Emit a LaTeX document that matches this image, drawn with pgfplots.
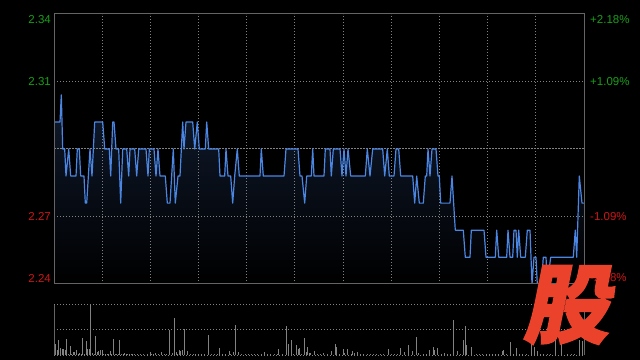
\documentclass[border=0pt]{standalone}
\usepackage{pgfplots}
\pgfplotsset{compat=1.18}
\usepackage{fontspec}
\setmainfont{Liberation Sans}
\newfontfamily\cjk{Noto Sans CJK SC}[BoldFeatures={FakeBold=2}]
\definecolor{framec}{RGB}{100,100,100}
\definecolor{gridc}{RGB}{130,130,130}
\definecolor{linec}{RGB}{74,134,226}
\definecolor{fillc}{RGB}{16,27,46}
\definecolor{volc}{RGB}{130,130,130}
\definecolor{upc}{RGB}{24,160,24}
\definecolor{dnc}{RGB}{205,22,22}
\definecolor{logoc}{RGB}{235,66,44}
\begin{document}
\begin{tikzpicture}
\fill[black] (0,0) rectangle (640bp,360bp);
\begin{axis}[at={(54bp,76bp)}, anchor=south west, width=530bp, height=270bp, scale only axis,
  xmin=0, xmax=330, ymin=2.2401, ymax=2.3399,
  axis line style={framec, line width=1bp}, axis on top,
  xtick=\empty, ytick=\empty, major tick length=0pt]
\addplot[draw=none, top color=fillc, bottom color=black] coordinates {
(0,2.30) (3.74,2.30) (4.55,2.31) (5.42,2.29) (6.66,2.29) (7.47,2.28) (9.15,2.29) (10.40,2.28) (13.70,2.28) (14.51,2.29) (15.75,2.29) (16.62,2.28) (18.68,2.28) (19.49,2.27) (20.36,2.27) (22.42,2.29) (23.66,2.28) (25.34,2.30) (30.32,2.30) (31.57,2.29) (34.43,2.29) (35.30,2.28) (36.55,2.30) (37.36,2.30) (38.60,2.29) (40.28,2.29) (41.53,2.27) (42.77,2.29) (45.27,2.29) (46.51,2.28) (47.32,2.29) (50.25,2.29) (51.49,2.28) (52.74,2.29) (57.28,2.29) (58.53,2.28) (59.34,2.29) (62.26,2.29) (63.51,2.28) (64.75,2.29) (66.00,2.28) (69.30,2.28) (70.55,2.27) (72.23,2.27) (74.28,2.29) (75.53,2.27) (77.21,2.28) (78.45,2.28) (80.13,2.30) (80.94,2.29) (82.19,2.30) (86.36,2.30) (87.61,2.29) (89.23,2.30) (90.47,2.29) (94.21,2.29) (95.08,2.30) (96.32,2.29) (102.55,2.29) (103.36,2.28) (106.28,2.28) (107.09,2.29) (108.34,2.28) (110.02,2.28) (111.26,2.27) (112.51,2.28) (114.13,2.29) (115.37,2.28) (128.26,2.28) (129.07,2.29) (130.32,2.28) (143.21,2.28) (144.45,2.29) (151.92,2.29) (153.17,2.28) (154.42,2.28) (156.09,2.27) (157.34,2.28) (160.20,2.28) (161.08,2.29) (161.89,2.28) (168.11,2.28) (168.92,2.29) (171.85,2.29) (172.66,2.28) (173.91,2.29) (178.08,2.29) (179.32,2.28) (180.57,2.29) (181.81,2.28) (183.06,2.29) (184.74,2.28) (193.83,2.28) (195.08,2.29) (196.75,2.28) (198.43,2.29) (204.66,2.29) (205.91,2.28) (207.53,2.29) (208.77,2.28) (211.70,2.28) (212.94,2.29) (214.62,2.29) (215.87,2.28) (223.34,2.28) (224.58,2.27) (225.83,2.28) (227.45,2.27) (229.94,2.27) (231.19,2.28) (232.06,2.28) (232.87,2.29) (234.11,2.28) (235.36,2.29) (237.85,2.29) (239.09,2.28) (239.90,2.28) (240.77,2.27) (246.56,2.27) (247.81,2.28) (249.86,2.26) (254.84,2.26) (256.09,2.25) (259.02,2.25) (259.83,2.26) (267.74,2.26) (268.98,2.25) (274.77,2.25) (275.64,2.26) (276.89,2.25) (281.87,2.25) (282.68,2.26) (283.92,2.25) (285.60,2.25) (286.41,2.26) (287.66,2.26) (288.47,2.25) (289.34,2.26) (290.58,2.25) (293.45,2.25) (294.70,2.26) (296.38,2.26) (297.62,2.24) (298.87,2.25) (300.11,2.25) (300.92,2.24) (303.5,2.24) (304.66,2.25) (306.34,2.25) (307.15,2.24) (309.26,2.25) (323.33,2.25) (324.58,2.26) (325.45,2.25) (327.07,2.28) (328.75,2.27) (330,2.27)
} \closedcycle;
\pgfplotsinvokeforeach{30,60,90,120,150,180,210,240,270,300}{
  \draw[gridc, dash pattern=on 1bp off 2bp, line width=1bp] (axis cs:#1,2.2401) -- (axis cs:#1,2.3399);
}
\draw[gridc, dash pattern=on 1bp off 2bp, line width=1bp] (axis cs:0,2.31496) -- (axis cs:330,2.31496);
\draw[gridc, dash pattern=on 1bp off 2bp, line width=1bp] (axis cs:0,2.26504) -- (axis cs:330,2.26504);
\draw[gridc, dash pattern=on 2bp off 1bp, line width=1bp] (axis cs:0,2.29) -- (axis cs:330,2.29);
\addplot[linec, line width=1.2bp, line join=round] coordinates {
(0,2.30) (3.74,2.30) (4.55,2.31) (5.42,2.29) (6.66,2.29) (7.47,2.28) (9.15,2.29) (10.40,2.28) (13.70,2.28) (14.51,2.29) (15.75,2.29) (16.62,2.28) (18.68,2.28) (19.49,2.27) (20.36,2.27) (22.42,2.29) (23.66,2.28) (25.34,2.30) (30.32,2.30) (31.57,2.29) (34.43,2.29) (35.30,2.28) (36.55,2.30) (37.36,2.30) (38.60,2.29) (40.28,2.29) (41.53,2.27) (42.77,2.29) (45.27,2.29) (46.51,2.28) (47.32,2.29) (50.25,2.29) (51.49,2.28) (52.74,2.29) (57.28,2.29) (58.53,2.28) (59.34,2.29) (62.26,2.29) (63.51,2.28) (64.75,2.29) (66.00,2.28) (69.30,2.28) (70.55,2.27) (72.23,2.27) (74.28,2.29) (75.53,2.27) (77.21,2.28) (78.45,2.28) (80.13,2.30) (80.94,2.29) (82.19,2.30) (86.36,2.30) (87.61,2.29) (89.23,2.30) (90.47,2.29) (94.21,2.29) (95.08,2.30) (96.32,2.29) (102.55,2.29) (103.36,2.28) (106.28,2.28) (107.09,2.29) (108.34,2.28) (110.02,2.28) (111.26,2.27) (112.51,2.28) (114.13,2.29) (115.37,2.28) (128.26,2.28) (129.07,2.29) (130.32,2.28) (143.21,2.28) (144.45,2.29) (151.92,2.29) (153.17,2.28) (154.42,2.28) (156.09,2.27) (157.34,2.28) (160.20,2.28) (161.08,2.29) (161.89,2.28) (168.11,2.28) (168.92,2.29) (171.85,2.29) (172.66,2.28) (173.91,2.29) (178.08,2.29) (179.32,2.28) (180.57,2.29) (181.81,2.28) (183.06,2.29) (184.74,2.28) (193.83,2.28) (195.08,2.29) (196.75,2.28) (198.43,2.29) (204.66,2.29) (205.91,2.28) (207.53,2.29) (208.77,2.28) (211.70,2.28) (212.94,2.29) (214.62,2.29) (215.87,2.28) (223.34,2.28) (224.58,2.27) (225.83,2.28) (227.45,2.27) (229.94,2.27) (231.19,2.28) (232.06,2.28) (232.87,2.29) (234.11,2.28) (235.36,2.29) (237.85,2.29) (239.09,2.28) (239.90,2.28) (240.77,2.27) (246.56,2.27) (247.81,2.28) (249.86,2.26) (254.84,2.26) (256.09,2.25) (259.02,2.25) (259.83,2.26) (267.74,2.26) (268.98,2.25) (274.77,2.25) (275.64,2.26) (276.89,2.25) (281.87,2.25) (282.68,2.26) (283.92,2.25) (285.60,2.25) (286.41,2.26) (287.66,2.26) (288.47,2.25) (289.34,2.26) (290.58,2.25) (293.45,2.25) (294.70,2.26) (296.38,2.26) (297.62,2.24) (298.87,2.25) (300.11,2.25) (300.92,2.24) (303.5,2.24) (304.66,2.25) (306.34,2.25) (307.15,2.24) (309.26,2.25) (323.33,2.25) (324.58,2.26) (325.45,2.25) (327.07,2.28) (328.75,2.27) (330,2.27)
};
\end{axis}
\begin{axis}[at={(54bp,5bp)}, anchor=south west, width=530bp, height=50bp, scale only axis,
  xmin=0, xmax=330, ymin=0, ymax=150,
  separate axis lines, x axis line style={draw=none}, y axis line style={framec, line width=1bp},
  xtick=\empty, ytick={0,75,150}, yticklabels={}, major tick length=0pt, ymajorgrids,
  grid style={gridc, dash pattern=on 1bp off 2bp, line width=1bp}]
\addplot[ycomb, volc, line width=1bp] table {
m v
1 32
2 14
3 44
4 22
5 17
6 17
7 14
8 47
9 4
10 26
11 4
12 9
13 9
14 14
15 4
16 5
17 4
18 50
19 4
20 41
21 17
22 17
23 150
24 5
25 4
26 56
27 8
28 11
29 14
30 14
31 4
32 4
33 4
34 4
35 11
36 4
37 47
38 4
39 4
40 4
41 44
42 4
43 4
44 5
45 4
46 4
47 4
48 4
49 4
50 4
52 4
54 4
56 4
58 4
60 8
61 4
62 4
63 5
65 4
67 8
69 4
70 4
72 74
74 5
75 110
76 8
77 4
78 14
79 11
80 14
81 77
83 11
85 4
87 4
88 4
90 4
92 4
94 4
96 59
98 4
100 4
102 4
103 20
105 4
107 4
109 11
110 4
112 8
113 89
115 8
117 4
119 4
121 4
123 4
125 4
127 4
129 4
131 8
133 4
135 4
137 4
139 4
140 17
142 4
145 86
146 32
148 44
149 4
151 29
152 17
153 20
154 4
156 50
157 8
158 23
159 5
160 5
162 11
164 4
166 4
168 5
170 4
173 11
175 32
176 23
178 4
180 17
181 5
183 17
185 4
186 11
187 5
189 8
191 4
193 4
195 4
197 4
199 4
201 4
203 4
205 4
208 17
210 4
212 4
214 4
216 20
218 8
221 29
223 11
226 53
227 5
230 4
232 4
234 14
236 23
237 14
239 20
241 4
243 5
245 4
247 4
249 104
251 11
253 4
255 44
256 86
257 29
260 23
263 4
265 4
267 4
269 4
271 4
273 4
275 4
277 4
279 11
280 14
282 4
284 38
286 4
288 20
290 4
292 4
294 4
297 41
299 23
301 11
303 4
305 4
307 4
309 4
312 44
316 44
320 4
322 4
324 4
327 44
329 41
};
\end{axis}
\begin{scope}[font=\fontsize{11.5bp}{13bp}\selectfont]
\node[anchor=east, text=upc, inner sep=0pt] at (51bp,340bp) {2.34};
\node[anchor=east, text=upc, inner sep=0pt] at (51bp,278bp) {2.31};
\node[anchor=east, text=dnc, inner sep=0pt] at (51bp,143.5bp) {2.27};
\node[anchor=east, text=dnc, inner sep=0pt] at (51bp,82bp) {2.24};
\node[anchor=west, text=upc, inner sep=0pt] at (590bp,340bp) {+2.18\%};
\node[anchor=west, text=upc, inner sep=0pt] at (590bp,278bp) {+1.09\%};
\node[anchor=west, text=dnc, inner sep=0pt] at (590bp,143.5bp) {-1.09\%};
\node[anchor=west, text=dnc, inner sep=0pt] at (590bp,82bp) {-2.18\%};
\end{scope}
\node[text=logoc, inner sep=0pt, xslant=0.2, font=\cjk\bfseries\fontsize{86bp}{86bp}\selectfont] at (572bp,55bp) {股};
\useasboundingbox (0,0) rectangle (640bp,360bp);
\end{tikzpicture}
\end{document}
